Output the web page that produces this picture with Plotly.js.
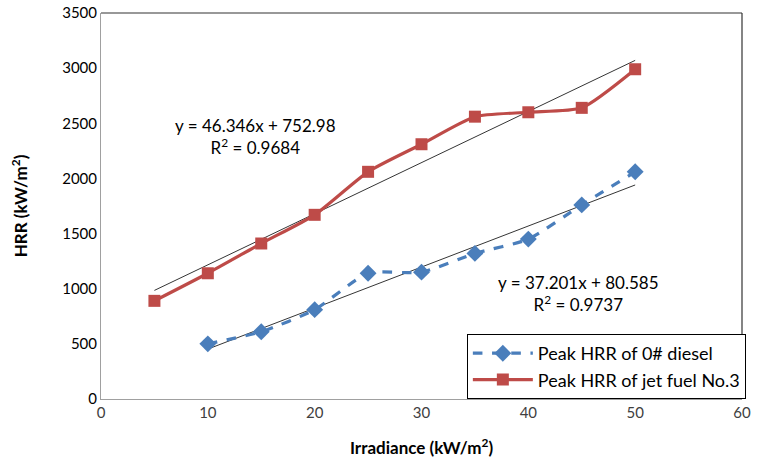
<!DOCTYPE html>
<html><head><meta charset="utf-8">
<script src="https://cdn.plot.ly/plotly-3.0.1.min.js"></script>
<style>html,body{margin:0;padding:0;background:#fff}#chart{width:757px;height:465px}</style>
</head><body><div id="chart"></div>
<script>
const jetX = [5, 10, 15, 20, 25, 30, 35, 40, 45, 50];
const jetY = [890, 1140, 1410, 1670, 2060, 2310, 2560, 2600, 2640, 2990];
const dieselX = [10, 15, 20, 25, 30, 35, 40, 45, 50];
const dieselY = [500, 610, 810, 1140, 1150, 1320, 1450, 1760, 2060];
const jetFit = {slope: 46.346, intercept: 752.98, r2: 0.9684};
const dieselFit = {slope: 37.201, intercept: 80.585, r2: 0.9737};
const seriesNames = ['Peak HRR of 0# diesel', 'Peak HRR of jet fuel No.3'];

function fitLine(xs, f){
  const x0 = Math.min(...xs), x1 = Math.max(...xs);
  return {x:[x0,x1], y:[f.slope*x0+f.intercept, f.slope*x1+f.intercept]};
}
const jl = fitLine(jetX, jetFit), dl = fitLine(dieselX, dieselFit);
const font = '"Lato", "Open Sans", sans-serif';

const traces = [
  {x: jl.x, y: jl.y, mode:'lines', line:{color:'#000', width:0.8}, showlegend:false, hoverinfo:'skip'},
  {x: dl.x, y: dl.y, mode:'lines', line:{color:'#000', width:0.8}, showlegend:false, hoverinfo:'skip'},
  {x: dieselX, y: dieselY, name: seriesNames[0], mode:'lines+markers',
   line:{color:'#4A7EBB', width:3.2, dash:'dash', shape:'spline', smoothing:0.6},
   marker:{symbol:'diamond', size:13, color:'#4A7EBB'}},
  {x: jetX, y: jetY, name: seriesNames[1], mode:'lines+markers',
   line:{color:'#BE4B48', width:3.2, shape:'spline', smoothing:0.6},
   marker:{symbol:'square', size:12, color:'#BE4B48'}}
];

const layout = {
  width:757, height:465,
  margin:{l:101, r:11, t:13, b:66},
  paper_bgcolor:'#fff', plot_bgcolor:'#fff',
  font:{family:font, size:15, color:'#000'},
  showlegend:true,
  legend:{x:1.006, xanchor:'right', y:0, yanchor:'bottom', bgcolor:'#fff', bordercolor:'#000', borderwidth:1,
    font:{family:font, size:18, color:'#000'}, tracegroupgap:4, itemwidth:60},
  xaxis:{range:[0,60], dtick:10, showgrid:false, zeroline:false, showline:true, linecolor:'#A0A0A0', linewidth:1,
    ticks:'', tickfont:{family:font, size:15, color:'#404040'},
    title:{text:'<b>Irradiance (kW/m<sup>2</sup>)</b>', font:{family:font, size:17, color:'#000'}, standoff:22}},
  yaxis:{range:[0,3500], dtick:500, showgrid:false, zeroline:false, showline:true, linecolor:'#A0A0A0', linewidth:1,
    ticks:'', tickfont:{family:font, size:15, color:'#000'},
    title:{text:'<b>HRR (kW/m<sup>2</sup>)</b>', font:{family:font, size:17, color:'#000'}, standoff:30}},
  shapes:[
    {type:'line', xref:'paper', yref:'paper', x0:0, x1:1, y0:1, y1:1, line:{color:'#333', width:1.2}},
    {type:'line', xref:'paper', yref:'paper', x0:1, x1:1, y0:0, y1:1, line:{color:'#333', width:1.2}}
  ],
  annotations:[
    {xref:'x', yref:'y', x:14.5, y:2384, text:'y = 46.346x + 752.98<br>R<sup>2</sup> = '+jetFit.r2, showarrow:false,
      font:{family:font, size:17, color:'#000'}, align:'center'},
    {xref:'x', yref:'y', x:44.65, y:961, text:'y = 37.201x + 80.585<br>R<sup>2</sup> = '+dieselFit.r2, showarrow:false,
      font:{family:font, size:17, color:'#000'}, align:'center'}
  ]
};
Plotly.newPlot('chart', traces, layout, {displayModeBar:false, staticPlot:true});
</script></body></html>
